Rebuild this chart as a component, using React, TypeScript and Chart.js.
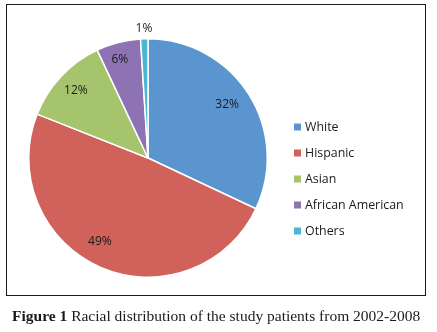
import React, { useEffect, useRef } from "react";
import { Chart, registerables } from "chart.js";

Chart.register(...registerables);

const categories = ["White", "Hispanic", "Asian", "African American", "Others"];
const percentages = [32, 49, 12, 6, 1];
const sliceColors = ["#5B95D0", "#D0625B", "#A6C46B", "#8E73B4", "#4DB7D1"];

const labelPlugin = {
  id: "sliceLabels",
  afterDatasetsDraw(chart: any, _args: any, opts: any) {
    const ctx = chart.ctx;
    const meta = chart.getDatasetMeta(0);
    const data = chart.data.datasets[0].data as number[];
    ctx.save();
    ctx.font = "12px 'Open Sans'";
    ctx.fillStyle = "#1a1a1a";
    ctx.textAlign = "center";
    ctx.textBaseline = "middle";
    meta.data.forEach((arc: any, i: number) => {
      const p = arc.getProps(["x", "y", "startAngle", "endAngle", "outerRadius"], true);
      const mid = (p.startAngle + p.endAngle) / 2 + ((opts.angleShift[i] || 0) * Math.PI) / 180;
      const r = p.outerRadius * opts.radiusFactor[i];
      ctx.fillText(data[i] + "%", p.x + Math.cos(mid) * r, p.y + Math.sin(mid) * r);
    });
    ctx.restore();
  },
};

const legendPlugin = {
  id: "sideLegend",
  afterDraw(chart: any, _args: any, opts: any) {
    const ctx = chart.ctx;
    const labels = chart.data.labels as string[];
    const colors = chart.data.datasets[0].backgroundColor as string[];
    ctx.save();
    ctx.font = "12.4px 'Open Sans'";
    ctx.textBaseline = "middle";
    ctx.textAlign = "left";
    labels.forEach((lab, i) => {
      const y = opts.y + i * opts.gap;
      ctx.fillStyle = colors[i];
      ctx.fillRect(opts.x, y - 3.5, 7, 7);
      ctx.fillStyle = "#1a1a1a";
      ctx.fillText(lab, opts.x + 11, y);
    });
    ctx.restore();
  },
};

export default function App() {
  const ref = useRef<HTMLCanvasElement>(null);
  useEffect(() => {
    const chart = new Chart(ref.current!, {
      type: "pie",
      data: {
        labels: categories,
        datasets: [
          {
            data: percentages,
            backgroundColor: sliceColors,
            borderColor: "#ffffff",
            borderWidth: 1.5,
          },
        ],
      },
      options: {
        animation: false,
        responsive: false,
        layout: { padding: { left: 28, top: 38, right: 169, bottom: 54 } },
        plugins: {
          legend: { display: false },
          tooltip: { enabled: false },
          sliceLabels: {
            radiusFactor: [0.8, 0.81, 0.83, 0.86, 1.09],
            angleShift: [-1.5, 6.5, 0, -1.5, 0],
          },
          sideLegend: { x: 294, y: 127, gap: 26 },
        } as any,
      },
      plugins: [labelPlugin, legendPlugin],
    });
    return () => chart.destroy();
  }, []);
  return (
    <div style={{ position: "fixed", left: 0, top: 0, width: 437, height: 332, background: "#fff" }}>
      <div
        style={{
          position: "absolute",
          left: 6,
          top: 4,
          width: 420,
          height: 292,
          border: "1.5px solid #1a1a1a",
          boxSizing: "border-box",
        }}
      />
      <canvas
        ref={ref}
        width={437}
        height={332}
        style={{ position: "absolute", left: 0, top: 0, width: 437, height: 332 }}
      />
      <div
        style={{
          position: "absolute",
          left: 12,
          top: 307,
          whiteSpace: "nowrap",
          fontFamily: "'Liberation Serif', serif",
          fontSize: 15.5,
          lineHeight: "18px",
          color: "#1a1a1a",
        }}
      >
        <b>Figure 1</b> Racial distribution of the study patients from 2002-2008
      </div>
    </div>
  );
}
